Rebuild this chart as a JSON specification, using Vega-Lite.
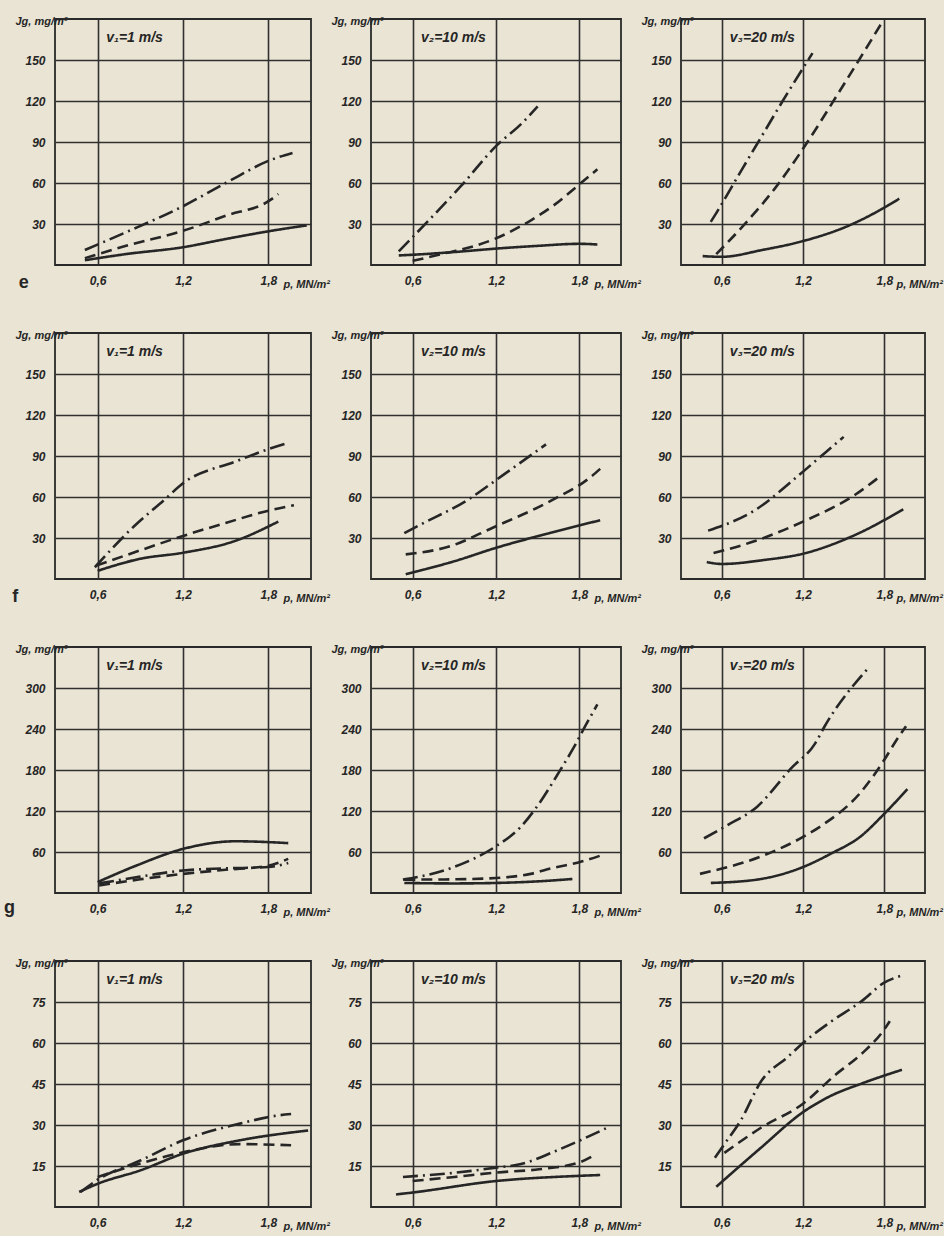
{
  "$schema": "https://vega.github.io/schema/vega-lite/v6.json",
  "background": "#eae4d4",
  "padding": {"left": 3, "top": 14, "right": 0, "bottom": 5},
  "datasets": {
    "curves": [
      {"r":"e","c":1,"s":"dashdot","p":0.51,"J":11},{"r":"e","c":1,"s":"dashdot","p":0.8,"J":24},{"r":"e","c":1,"s":"dashdot","p":1.2,"J":43},{"r":"e","c":1,"s":"dashdot","p":1.5,"J":60},{"r":"e","c":1,"s":"dashdot","p":1.82,"J":77},{"r":"e","c":1,"s":"dashdot","p":1.97,"J":82},
      {"r":"e","c":1,"s":"dashed","p":0.51,"J":5},{"r":"e","c":1,"s":"dashed","p":0.8,"J":14},{"r":"e","c":1,"s":"dashed","p":1.2,"J":25},{"r":"e","c":1,"s":"dashed","p":1.5,"J":36},{"r":"e","c":1,"s":"dashed","p":1.82,"J":48},{"r":"e","c":1,"s":"dashed","p":1.87,"J":52},
      {"r":"e","c":1,"s":"solid","p":0.51,"J":3.5},{"r":"e","c":1,"s":"solid","p":0.8,"J":8},{"r":"e","c":1,"s":"solid","p":1.2,"J":13},{"r":"e","c":1,"s":"solid","p":1.5,"J":19},{"r":"e","c":1,"s":"solid","p":1.82,"J":25},{"r":"e","c":1,"s":"solid","p":2.07,"J":29},

      {"r":"e","c":2,"s":"dashdot","p":0.5,"J":10},{"r":"e","c":2,"s":"dashdot","p":0.7,"J":31},{"r":"e","c":2,"s":"dashdot","p":0.95,"J":58},{"r":"e","c":2,"s":"dashdot","p":1.2,"J":87},{"r":"e","c":2,"s":"dashdot","p":1.39,"J":104},{"r":"e","c":2,"s":"dashdot","p":1.5,"J":116},
      {"r":"e","c":2,"s":"dashed","p":0.6,"J":3},{"r":"e","c":2,"s":"dashed","p":0.85,"J":9},{"r":"e","c":2,"s":"dashed","p":1.05,"J":14},{"r":"e","c":2,"s":"dashed","p":1.2,"J":19.5},{"r":"e","c":2,"s":"dashed","p":1.44,"J":32},{"r":"e","c":2,"s":"dashed","p":1.62,"J":44},{"r":"e","c":2,"s":"dashed","p":1.8,"J":59},{"r":"e","c":2,"s":"dashed","p":1.93,"J":70},
      {"r":"e","c":2,"s":"solid","p":0.5,"J":7},{"r":"e","c":2,"s":"solid","p":0.6,"J":7.5},{"r":"e","c":2,"s":"solid","p":0.9,"J":9.5},{"r":"e","c":2,"s":"solid","p":1.2,"J":12},{"r":"e","c":2,"s":"solid","p":1.5,"J":14},{"r":"e","c":2,"s":"solid","p":1.8,"J":15.5},{"r":"e","c":2,"s":"solid","p":1.93,"J":15},

      {"r":"e","c":3,"s":"dashdot","p":0.52,"J":31.6},{"r":"e","c":3,"s":"dashdot","p":0.56,"J":38},{"r":"e","c":3,"s":"dashdot","p":0.75,"J":70},{"r":"e","c":3,"s":"dashdot","p":0.9,"J":95},{"r":"e","c":3,"s":"dashdot","p":1.05,"J":120},{"r":"e","c":3,"s":"dashdot","p":1.2,"J":144},{"r":"e","c":3,"s":"dashdot","p":1.27,"J":155},
      {"r":"e","c":3,"s":"dashed","p":0.56,"J":8},{"r":"e","c":3,"s":"dashed","p":0.78,"J":31},{"r":"e","c":3,"s":"dashed","p":1.0,"J":57},{"r":"e","c":3,"s":"dashed","p":1.2,"J":85},{"r":"e","c":3,"s":"dashed","p":1.45,"J":124},{"r":"e","c":3,"s":"dashed","p":1.78,"J":177},
      {"r":"e","c":3,"s":"solid","p":0.46,"J":6.5},{"r":"e","c":3,"s":"solid","p":0.6,"J":6},{"r":"e","c":3,"s":"solid","p":0.9,"J":11},{"r":"e","c":3,"s":"solid","p":1.2,"J":17.5},{"r":"e","c":3,"s":"solid","p":1.53,"J":28.5},{"r":"e","c":3,"s":"solid","p":1.8,"J":42},{"r":"e","c":3,"s":"solid","p":1.91,"J":48.5},

      {"r":"f","c":1,"s":"dashdot","p":0.58,"J":8.6},{"r":"f","c":1,"s":"dashdot","p":0.86,"J":39},{"r":"f","c":1,"s":"dashdot","p":1.07,"J":58},{"r":"f","c":1,"s":"dashdot","p":1.2,"J":70},{"r":"f","c":1,"s":"dashdot","p":1.57,"J":86},{"r":"f","c":1,"s":"dashdot","p":1.8,"J":95},{"r":"f","c":1,"s":"dashdot","p":1.94,"J":99.6},
      {"r":"f","c":1,"s":"dashed","p":0.59,"J":9.8},{"r":"f","c":1,"s":"dashed","p":0.9,"J":21},{"r":"f","c":1,"s":"dashed","p":1.2,"J":31.5},{"r":"f","c":1,"s":"dashed","p":1.5,"J":41},{"r":"f","c":1,"s":"dashed","p":1.8,"J":50},{"r":"f","c":1,"s":"dashed","p":1.98,"J":54},
      {"r":"f","c":1,"s":"solid","p":0.6,"J":6},{"r":"f","c":1,"s":"solid","p":0.9,"J":14.8},{"r":"f","c":1,"s":"solid","p":1.2,"J":19.2},{"r":"f","c":1,"s":"solid","p":1.57,"J":28},{"r":"f","c":1,"s":"solid","p":1.87,"J":42},

      {"r":"f","c":2,"s":"dashdot","p":0.54,"J":33.5},{"r":"f","c":2,"s":"dashdot","p":0.66,"J":40},{"r":"f","c":2,"s":"dashdot","p":0.99,"J":57.5},{"r":"f","c":2,"s":"dashdot","p":1.25,"J":76},{"r":"f","c":2,"s":"dashdot","p":1.56,"J":98.5},
      {"r":"f","c":2,"s":"dashed","p":0.55,"J":18},{"r":"f","c":2,"s":"dashed","p":0.87,"J":24},{"r":"f","c":2,"s":"dashed","p":1.18,"J":37.7},{"r":"f","c":2,"s":"dashed","p":1.6,"J":57.5},{"r":"f","c":2,"s":"dashed","p":1.87,"J":73.7},{"r":"f","c":2,"s":"dashed","p":1.95,"J":80.6},
      {"r":"f","c":2,"s":"solid","p":0.55,"J":3.5},{"r":"f","c":2,"s":"solid","p":0.9,"J":13},{"r":"f","c":2,"s":"solid","p":1.2,"J":22.8},{"r":"f","c":2,"s":"solid","p":1.6,"J":34},{"r":"f","c":2,"s":"solid","p":1.95,"J":43},

      {"r":"f","c":3,"s":"dashdot","p":0.5,"J":35.4},{"r":"f","c":3,"s":"dashdot","p":0.84,"J":50},{"r":"f","c":3,"s":"dashdot","p":1.17,"J":76},{"r":"f","c":3,"s":"dashdot","p":1.37,"J":93},{"r":"f","c":3,"s":"dashdot","p":1.5,"J":104},
      {"r":"f","c":3,"s":"dashed","p":0.54,"J":19},{"r":"f","c":3,"s":"dashed","p":0.84,"J":27.6},{"r":"f","c":3,"s":"dashed","p":1.2,"J":42},{"r":"f","c":3,"s":"dashed","p":1.59,"J":62},{"r":"f","c":3,"s":"dashed","p":1.78,"J":76},
      {"r":"f","c":3,"s":"solid","p":0.49,"J":12.4},{"r":"f","c":3,"s":"solid","p":0.6,"J":11},{"r":"f","c":3,"s":"solid","p":0.92,"J":14},{"r":"f","c":3,"s":"solid","p":1.2,"J":18.5},{"r":"f","c":3,"s":"solid","p":1.59,"J":32.5},{"r":"f","c":3,"s":"solid","p":1.94,"J":51},

      {"r":"g","c":1,"s":"solid","p":0.6,"J":16},{"r":"g","c":1,"s":"solid","p":0.87,"J":40},{"r":"g","c":1,"s":"solid","p":1.2,"J":64.5},{"r":"g","c":1,"s":"solid","p":1.57,"J":75.7},{"r":"g","c":1,"s":"solid","p":1.94,"J":73},
      {"r":"g","c":1,"s":"dashed","p":0.61,"J":11},{"r":"g","c":1,"s":"dashed","p":0.9,"J":20},{"r":"g","c":1,"s":"dashed","p":1.2,"J":28},{"r":"g","c":1,"s":"dashed","p":1.5,"J":34},{"r":"g","c":1,"s":"dashed","p":1.8,"J":40},{"r":"g","c":1,"s":"dashed","p":1.94,"J":50},
      {"r":"g","c":1,"s":"dashdot","p":0.61,"J":14},{"r":"g","c":1,"s":"dashdot","p":0.9,"J":24},{"r":"g","c":1,"s":"dashdot","p":1.2,"J":33},{"r":"g","c":1,"s":"dashdot","p":1.5,"J":36},{"r":"g","c":1,"s":"dashdot","p":1.8,"J":38},{"r":"g","c":1,"s":"dashdot","p":1.94,"J":44},

      {"r":"g","c":2,"s":"dashdot","p":0.53,"J":19.6},{"r":"g","c":2,"s":"dashdot","p":0.88,"J":36.7},{"r":"g","c":2,"s":"dashdot","p":1.2,"J":68.5},{"r":"g","c":2,"s":"dashdot","p":1.37,"J":95},{"r":"g","c":2,"s":"dashdot","p":1.49,"J":125},{"r":"g","c":2,"s":"dashdot","p":1.66,"J":179},{"r":"g","c":2,"s":"dashdot","p":1.76,"J":213},{"r":"g","c":2,"s":"dashdot","p":1.85,"J":247},{"r":"g","c":2,"s":"dashdot","p":1.93,"J":276},
      {"r":"g","c":2,"s":"dashed","p":0.54,"J":19.6},{"r":"g","c":2,"s":"dashed","p":0.9,"J":20},{"r":"g","c":2,"s":"dashed","p":1.2,"J":22},{"r":"g","c":2,"s":"dashed","p":1.45,"J":28},{"r":"g","c":2,"s":"dashed","p":1.61,"J":36.7},{"r":"g","c":2,"s":"dashed","p":1.8,"J":45},{"r":"g","c":2,"s":"dashed","p":1.97,"J":56},
      {"r":"g","c":2,"s":"solid","p":0.54,"J":14.7},{"r":"g","c":2,"s":"solid","p":0.9,"J":14},{"r":"g","c":2,"s":"solid","p":1.2,"J":14.7},{"r":"g","c":2,"s":"solid","p":1.5,"J":17},{"r":"g","c":2,"s":"solid","p":1.75,"J":20.5},

      {"r":"g","c":3,"s":"dashdot","p":0.47,"J":80},{"r":"g","c":3,"s":"dashdot","p":0.64,"J":99},{"r":"g","c":3,"s":"dashdot","p":0.86,"J":126},{"r":"g","c":3,"s":"dashdot","p":1.11,"J":182},{"r":"g","c":3,"s":"dashdot","p":1.29,"J":219},{"r":"g","c":3,"s":"dashdot","p":1.36,"J":244},{"r":"g","c":3,"s":"dashdot","p":1.68,"J":329},
      {"r":"g","c":3,"s":"dashed","p":0.44,"J":28},{"r":"g","c":3,"s":"dashed","p":0.91,"J":55},{"r":"g","c":3,"s":"dashed","p":1.2,"J":82},{"r":"g","c":3,"s":"dashed","p":1.34,"J":99},{"r":"g","c":3,"s":"dashed","p":1.62,"J":146},{"r":"g","c":3,"s":"dashed","p":1.8,"J":195},{"r":"g","c":3,"s":"dashed","p":1.89,"J":224},{"r":"g","c":3,"s":"dashed","p":1.96,"J":244},
      {"r":"g","c":3,"s":"solid","p":0.52,"J":14.7},{"r":"g","c":3,"s":"solid","p":0.86,"J":19.6},{"r":"g","c":3,"s":"solid","p":1.2,"J":38},{"r":"g","c":3,"s":"solid","p":1.41,"J":58},{"r":"g","c":3,"s":"solid","p":1.62,"J":82},{"r":"g","c":3,"s":"solid","p":1.8,"J":116},{"r":"g","c":3,"s":"solid","p":1.97,"J":152},

      {"r":"h","c":1,"s":"dashdot","p":0.48,"J":5.5},{"r":"h","c":1,"s":"dashdot","p":0.6,"J":10},{"r":"h","c":1,"s":"dashdot","p":0.9,"J":17},{"r":"h","c":1,"s":"dashdot","p":1.2,"J":24.4},{"r":"h","c":1,"s":"dashdot","p":1.6,"J":30.5},{"r":"h","c":1,"s":"dashdot","p":1.87,"J":33.5},{"r":"h","c":1,"s":"dashdot","p":1.96,"J":34},
      {"r":"h","c":1,"s":"dashed","p":0.6,"J":11},{"r":"h","c":1,"s":"dashed","p":0.9,"J":15.9},{"r":"h","c":1,"s":"dashed","p":1.2,"J":20},{"r":"h","c":1,"s":"dashed","p":1.6,"J":23},{"r":"h","c":1,"s":"dashed","p":1.96,"J":22.6},
      {"r":"h","c":1,"s":"solid","p":0.47,"J":5.5},{"r":"h","c":1,"s":"solid","p":0.6,"J":8.5},{"r":"h","c":1,"s":"solid","p":0.9,"J":13.4},{"r":"h","c":1,"s":"solid","p":1.2,"J":19.5},{"r":"h","c":1,"s":"solid","p":1.6,"J":24.4},{"r":"h","c":1,"s":"solid","p":2.08,"J":28},

      {"r":"h","c":2,"s":"dashdot","p":0.53,"J":11},{"r":"h","c":2,"s":"dashdot","p":0.9,"J":12.5},{"r":"h","c":2,"s":"dashdot","p":1.2,"J":14.4},{"r":"h","c":2,"s":"dashdot","p":1.38,"J":15.7},{"r":"h","c":2,"s":"dashdot","p":1.63,"J":20.5},{"r":"h","c":2,"s":"dashdot","p":2.0,"J":29},
      {"r":"h","c":2,"s":"dashed","p":0.6,"J":9.5},{"r":"h","c":2,"s":"dashed","p":0.9,"J":11},{"r":"h","c":2,"s":"dashed","p":1.2,"J":12.6},{"r":"h","c":2,"s":"dashed","p":1.51,"J":13.8},{"r":"h","c":2,"s":"dashed","p":1.8,"J":16.3},{"r":"h","c":2,"s":"dashed","p":1.92,"J":19.3},
      {"r":"h","c":2,"s":"solid","p":0.48,"J":4.6},{"r":"h","c":2,"s":"solid","p":0.6,"J":5.3},{"r":"h","c":2,"s":"solid","p":1.2,"J":9.5},{"r":"h","c":2,"s":"solid","p":1.8,"J":11.4},{"r":"h","c":2,"s":"solid","p":1.95,"J":11.7},

      {"r":"h","c":3,"s":"dashdot","p":0.55,"J":18},{"r":"h","c":3,"s":"dashdot","p":0.62,"J":23},{"r":"h","c":3,"s":"dashdot","p":0.74,"J":31.6},{"r":"h","c":3,"s":"dashdot","p":0.89,"J":45.9},{"r":"h","c":3,"s":"dashdot","p":1.09,"J":55},{"r":"h","c":3,"s":"dashdot","p":1.2,"J":60},{"r":"h","c":3,"s":"dashdot","p":1.4,"J":67.6},{"r":"h","c":3,"s":"dashdot","p":1.64,"J":75.6},{"r":"h","c":3,"s":"dashdot","p":1.79,"J":81.8},{"r":"h","c":3,"s":"dashdot","p":1.93,"J":84.7},
      {"r":"h","c":3,"s":"dashed","p":0.62,"J":19.8},{"r":"h","c":3,"s":"dashed","p":0.89,"J":29},{"r":"h","c":3,"s":"dashed","p":1.2,"J":37.8},{"r":"h","c":3,"s":"dashed","p":1.44,"J":48.4},{"r":"h","c":3,"s":"dashed","p":1.64,"J":56.4},{"r":"h","c":3,"s":"dashed","p":1.8,"J":65},{"r":"h","c":3,"s":"dashed","p":1.84,"J":68},
      {"r":"h","c":3,"s":"solid","p":0.56,"J":7.4},{"r":"h","c":3,"s":"solid","p":0.89,"J":21.7},{"r":"h","c":3,"s":"solid","p":1.2,"J":34.7},{"r":"h","c":3,"s":"solid","p":1.39,"J":40.3},{"r":"h","c":3,"s":"solid","p":1.64,"J":45.3},{"r":"h","c":3,"s":"solid","p":1.93,"J":50.2}
    ],
    "panels": [
      {"r":"e","c":1,"label":"v₁=1 m/s","letter":"e"},
      {"r":"e","c":2,"label":"v₂=10 m/s","letter":""},
      {"r":"e","c":3,"label":"v₃=20 m/s","letter":""},
      {"r":"f","c":1,"label":"v₁=1 m/s","letter":"f"},
      {"r":"f","c":2,"label":"v₂=10 m/s","letter":""},
      {"r":"f","c":3,"label":"v₃=20 m/s","letter":""},
      {"r":"g","c":1,"label":"v₁=1 m/s","letter":"g"},
      {"r":"g","c":2,"label":"v₂=10 m/s","letter":""},
      {"r":"g","c":3,"label":"v₃=20 m/s","letter":""},
      {"r":"h","c":1,"label":"v₁=1 m/s","letter":""},
      {"r":"h","c":2,"label":"v₂=10 m/s","letter":""},
      {"r":"h","c":3,"label":"v₃=20 m/s","letter":""}
    ]
  },
  "config": {
    "font": "Liberation Sans",
    "view": {"stroke": "#2a2a2a", "strokeWidth": 1.8, "fill": null},
    "axis": {
      "grid": true, "gridColor": "#303030", "gridWidth": 1.6, "gridOpacity": 1,
      "domain": false, "ticks": false,
      "labelFont": "Liberation Sans", "labelFontSize": 12, "labelFontStyle": "italic", "labelFontWeight": "bold", "labelColor": "#262626",
      "labelPadding": 10,
      "titleFont": "Liberation Sans", "titleFontSize": 11, "titleFontStyle": "italic", "titleFontWeight": "bold", "titleColor": "#262626"
    },
    "axisX": {
      "labelExpr": "replace(format(datum.value, '.1f'), '.', ',')",
      "titleAngle": 0, "titleAlign": "left", "titleBaseline": "alphabetic", "titleY": 22, "titleAnchor": "start"
    },
    "axisY": {
      "titleAngle": 0, "titleAlign": "left", "titleBaseline": "middle", "titleX": -40, "titleY": 2, "titleAnchor": "start"
    },
    "text": {"font": "Liberation Sans", "fontStyle": "italic", "fontWeight": "bold", "color": "#262626"}
  },
  "columns": 3,
  "bounds": "flush",
  "spacing": {"row": 68, "column": 60},
  "concat": [
      {"width": 256, "height": 246, "layer": [
        {"data": {"name": "curves"}, "transform": [{"filter": "datum.r == 'e' && datum.c == 1"}],
         "mark": {"type": "line", "interpolate": "monotone", "strokeWidth": 2.6, "color": "#262626", "clip": true},
         "encoding": {
           "x": {"field": "p", "type": "quantitative", "scale": {"domain": [0.3, 2.1], "nice": false, "zero": false}, "axis": {"values": [0.6, 1.2, 1.8], "title": "p, MN/m²", "titleX": 228}},
           "y": {"field": "J", "type": "quantitative", "scale": {"domain": [0, 180], "nice": false}, "axis": {"values": [30, 60, 90, 120, 150], "title": "Jg, mg/m³"}},
           "detail": {"field": "s"},
           "strokeDash": {"field": "s", "type": "nominal", "scale": {"domain": ["solid", "dashed", "dashdot"], "range": [[1, 0], [11, 6], [15, 5, 2, 5]]}, "legend": null}}},
        {"data": {"name": "panels"}, "transform": [{"filter": "datum.r == 'e' && datum.c == 1"}],
         "mark": {"type": "text", "align": "left", "baseline": "middle", "fontSize": 14},
         "encoding": {"x": {"datum": 0.66}, "y": {"datum": 166}, "text": {"field": "label"}}},
        {"data": {"name": "panels"}, "transform": [{"filter": "datum.r == 'e' && datum.c == 1"}],
         "mark": {"type": "text", "align": "center", "baseline": "middle", "fontSize": 18, "fontStyle": "normal"},
         "encoding": {"x": {"datum": 0.08}, "y": {"datum": -13}, "text": {"field": "letter"}}}
      ]},
      {"width": 250, "height": 246, "layer": [
        {"data": {"name": "curves"}, "transform": [{"filter": "datum.r == 'e' && datum.c == 2"}],
         "mark": {"type": "line", "interpolate": "monotone", "strokeWidth": 2.6, "color": "#262626", "clip": true},
         "encoding": {
           "x": {"field": "p", "type": "quantitative", "scale": {"domain": [0.3, 2.1], "nice": false, "zero": false}, "axis": {"values": [0.6, 1.2, 1.8], "title": "p, MN/m²", "titleX": 223}},
           "y": {"field": "J", "type": "quantitative", "scale": {"domain": [0, 180], "nice": false}, "axis": {"values": [30, 60, 90, 120, 150], "title": "Jg, mg/m³"}},
           "detail": {"field": "s"},
           "strokeDash": {"field": "s", "type": "nominal", "scale": {"domain": ["solid", "dashed", "dashdot"], "range": [[1, 0], [11, 6], [15, 5, 2, 5]]}, "legend": null}}},
        {"data": {"name": "panels"}, "transform": [{"filter": "datum.r == 'e' && datum.c == 2"}],
         "mark": {"type": "text", "align": "left", "baseline": "middle", "fontSize": 14},
         "encoding": {"x": {"datum": 0.66}, "y": {"datum": 166}, "text": {"field": "label"}}}
      ]},
      {"width": 244, "height": 246, "layer": [
        {"data": {"name": "curves"}, "transform": [{"filter": "datum.r == 'e' && datum.c == 3"}],
         "mark": {"type": "line", "interpolate": "monotone", "strokeWidth": 2.6, "color": "#262626", "clip": true},
         "encoding": {
           "x": {"field": "p", "type": "quantitative", "scale": {"domain": [0.3, 2.1], "nice": false, "zero": false}, "axis": {"values": [0.6, 1.2, 1.8], "title": "p, MN/m²", "titleX": 215}},
           "y": {"field": "J", "type": "quantitative", "scale": {"domain": [0, 180], "nice": false}, "axis": {"values": [30, 60, 90, 120, 150], "title": "Jg, mg/m³"}},
           "detail": {"field": "s"},
           "strokeDash": {"field": "s", "type": "nominal", "scale": {"domain": ["solid", "dashed", "dashdot"], "range": [[1, 0], [11, 6], [15, 5, 2, 5]]}, "legend": null}}},
        {"data": {"name": "panels"}, "transform": [{"filter": "datum.r == 'e' && datum.c == 3"}],
         "mark": {"type": "text", "align": "left", "baseline": "middle", "fontSize": 14},
         "encoding": {"x": {"datum": 0.66}, "y": {"datum": 166}, "text": {"field": "label"}}}
      ]},
      {"width": 256, "height": 246, "layer": [
        {"data": {"name": "curves"}, "transform": [{"filter": "datum.r == 'f' && datum.c == 1"}],
         "mark": {"type": "line", "interpolate": "monotone", "strokeWidth": 2.6, "color": "#262626", "clip": true},
         "encoding": {
           "x": {"field": "p", "type": "quantitative", "scale": {"domain": [0.3, 2.1], "nice": false, "zero": false}, "axis": {"values": [0.6, 1.2, 1.8], "title": "p, MN/m²", "titleX": 228}},
           "y": {"field": "J", "type": "quantitative", "scale": {"domain": [0, 180], "nice": false}, "axis": {"values": [30, 60, 90, 120, 150], "title": "Jg, mg/m³"}},
           "detail": {"field": "s"},
           "strokeDash": {"field": "s", "type": "nominal", "scale": {"domain": ["solid", "dashed", "dashdot"], "range": [[1, 0], [11, 6], [15, 5, 2, 5]]}, "legend": null}}},
        {"data": {"name": "panels"}, "transform": [{"filter": "datum.r == 'f' && datum.c == 1"}],
         "mark": {"type": "text", "align": "left", "baseline": "middle", "fontSize": 14},
         "encoding": {"x": {"datum": 0.66}, "y": {"datum": 166}, "text": {"field": "label"}}},
        {"data": {"name": "panels"}, "transform": [{"filter": "datum.r == 'f' && datum.c == 1"}],
         "mark": {"type": "text", "align": "center", "baseline": "middle", "fontSize": 18, "fontStyle": "normal"},
         "encoding": {"x": {"datum": 0.02}, "y": {"datum": -13}, "text": {"field": "letter"}}}
      ]},
      {"width": 250, "height": 246, "layer": [
        {"data": {"name": "curves"}, "transform": [{"filter": "datum.r == 'f' && datum.c == 2"}],
         "mark": {"type": "line", "interpolate": "monotone", "strokeWidth": 2.6, "color": "#262626", "clip": true},
         "encoding": {
           "x": {"field": "p", "type": "quantitative", "scale": {"domain": [0.3, 2.1], "nice": false, "zero": false}, "axis": {"values": [0.6, 1.2, 1.8], "title": "p, MN/m²", "titleX": 223}},
           "y": {"field": "J", "type": "quantitative", "scale": {"domain": [0, 180], "nice": false}, "axis": {"values": [30, 60, 90, 120, 150], "title": "Jg, mg/m³"}},
           "detail": {"field": "s"},
           "strokeDash": {"field": "s", "type": "nominal", "scale": {"domain": ["solid", "dashed", "dashdot"], "range": [[1, 0], [11, 6], [15, 5, 2, 5]]}, "legend": null}}},
        {"data": {"name": "panels"}, "transform": [{"filter": "datum.r == 'f' && datum.c == 2"}],
         "mark": {"type": "text", "align": "left", "baseline": "middle", "fontSize": 14},
         "encoding": {"x": {"datum": 0.66}, "y": {"datum": 166}, "text": {"field": "label"}}}
      ]},
      {"width": 244, "height": 246, "layer": [
        {"data": {"name": "curves"}, "transform": [{"filter": "datum.r == 'f' && datum.c == 3"}],
         "mark": {"type": "line", "interpolate": "monotone", "strokeWidth": 2.6, "color": "#262626", "clip": true},
         "encoding": {
           "x": {"field": "p", "type": "quantitative", "scale": {"domain": [0.3, 2.1], "nice": false, "zero": false}, "axis": {"values": [0.6, 1.2, 1.8], "title": "p, MN/m²", "titleX": 215}},
           "y": {"field": "J", "type": "quantitative", "scale": {"domain": [0, 180], "nice": false}, "axis": {"values": [30, 60, 90, 120, 150], "title": "Jg, mg/m³"}},
           "detail": {"field": "s"},
           "strokeDash": {"field": "s", "type": "nominal", "scale": {"domain": ["solid", "dashed", "dashdot"], "range": [[1, 0], [11, 6], [15, 5, 2, 5]]}, "legend": null}}},
        {"data": {"name": "panels"}, "transform": [{"filter": "datum.r == 'f' && datum.c == 3"}],
         "mark": {"type": "text", "align": "left", "baseline": "middle", "fontSize": 14},
         "encoding": {"x": {"datum": 0.66}, "y": {"datum": 166}, "text": {"field": "label"}}}
      ]},
      {"width": 256, "height": 246, "layer": [
        {"data": {"name": "curves"}, "transform": [{"filter": "datum.r == 'g' && datum.c == 1"}],
         "mark": {"type": "line", "interpolate": "monotone", "strokeWidth": 2.6, "color": "#262626", "clip": true},
         "encoding": {
           "x": {"field": "p", "type": "quantitative", "scale": {"domain": [0.3, 2.1], "nice": false, "zero": false}, "axis": {"values": [0.6, 1.2, 1.8], "title": "p, MN/m²", "titleX": 228}},
           "y": {"field": "J", "type": "quantitative", "scale": {"domain": [0, 360], "nice": false}, "axis": {"values": [60, 120, 180, 240, 300], "title": "Jg, mg/m³"}},
           "detail": {"field": "s"},
           "strokeDash": {"field": "s", "type": "nominal", "scale": {"domain": ["solid", "dashed", "dashdot"], "range": [[1, 0], [11, 6], [15, 5, 2, 5]]}, "legend": null}}},
        {"data": {"name": "panels"}, "transform": [{"filter": "datum.r == 'g' && datum.c == 1"}],
         "mark": {"type": "text", "align": "left", "baseline": "middle", "fontSize": 14},
         "encoding": {"x": {"datum": 0.66}, "y": {"datum": 332}, "text": {"field": "label"}}},
        {"data": {"name": "panels"}, "transform": [{"filter": "datum.r == 'g' && datum.c == 1"}],
         "mark": {"type": "text", "align": "center", "baseline": "middle", "fontSize": 18, "fontStyle": "normal"},
         "encoding": {"x": {"datum": -0.02}, "y": {"datum": -22}, "text": {"field": "letter"}}}
      ]},
      {"width": 250, "height": 246, "layer": [
        {"data": {"name": "curves"}, "transform": [{"filter": "datum.r == 'g' && datum.c == 2"}],
         "mark": {"type": "line", "interpolate": "monotone", "strokeWidth": 2.6, "color": "#262626", "clip": true},
         "encoding": {
           "x": {"field": "p", "type": "quantitative", "scale": {"domain": [0.3, 2.1], "nice": false, "zero": false}, "axis": {"values": [0.6, 1.2, 1.8], "title": "p, MN/m²", "titleX": 223}},
           "y": {"field": "J", "type": "quantitative", "scale": {"domain": [0, 360], "nice": false}, "axis": {"values": [60, 120, 180, 240, 300], "title": "Jg, mg/m³"}},
           "detail": {"field": "s"},
           "strokeDash": {"field": "s", "type": "nominal", "scale": {"domain": ["solid", "dashed", "dashdot"], "range": [[1, 0], [11, 6], [15, 5, 2, 5]]}, "legend": null}}},
        {"data": {"name": "panels"}, "transform": [{"filter": "datum.r == 'g' && datum.c == 2"}],
         "mark": {"type": "text", "align": "left", "baseline": "middle", "fontSize": 14},
         "encoding": {"x": {"datum": 0.66}, "y": {"datum": 332}, "text": {"field": "label"}}}
      ]},
      {"width": 244, "height": 246, "layer": [
        {"data": {"name": "curves"}, "transform": [{"filter": "datum.r == 'g' && datum.c == 3"}],
         "mark": {"type": "line", "interpolate": "monotone", "strokeWidth": 2.6, "color": "#262626", "clip": true},
         "encoding": {
           "x": {"field": "p", "type": "quantitative", "scale": {"domain": [0.3, 2.1], "nice": false, "zero": false}, "axis": {"values": [0.6, 1.2, 1.8], "title": "p, MN/m²", "titleX": 215}},
           "y": {"field": "J", "type": "quantitative", "scale": {"domain": [0, 360], "nice": false}, "axis": {"values": [60, 120, 180, 240, 300], "title": "Jg, mg/m³"}},
           "detail": {"field": "s"},
           "strokeDash": {"field": "s", "type": "nominal", "scale": {"domain": ["solid", "dashed", "dashdot"], "range": [[1, 0], [11, 6], [15, 5, 2, 5]]}, "legend": null}}},
        {"data": {"name": "panels"}, "transform": [{"filter": "datum.r == 'g' && datum.c == 3"}],
         "mark": {"type": "text", "align": "left", "baseline": "middle", "fontSize": 14},
         "encoding": {"x": {"datum": 0.66}, "y": {"datum": 332}, "text": {"field": "label"}}}
      ]},
      {"width": 256, "height": 246, "layer": [
        {"data": {"name": "curves"}, "transform": [{"filter": "datum.r == 'h' && datum.c == 1"}],
         "mark": {"type": "line", "interpolate": "monotone", "strokeWidth": 2.6, "color": "#262626", "clip": true},
         "encoding": {
           "x": {"field": "p", "type": "quantitative", "scale": {"domain": [0.3, 2.1], "nice": false, "zero": false}, "axis": {"values": [0.6, 1.2, 1.8], "title": "p, MN/m²", "titleX": 228}},
           "y": {"field": "J", "type": "quantitative", "scale": {"domain": [0, 90], "nice": false}, "axis": {"values": [15, 30, 45, 60, 75], "title": "Jg, mg/m³"}},
           "detail": {"field": "s"},
           "strokeDash": {"field": "s", "type": "nominal", "scale": {"domain": ["solid", "dashed", "dashdot"], "range": [[1, 0], [11, 6], [15, 5, 2, 5]]}, "legend": null}}},
        {"data": {"name": "panels"}, "transform": [{"filter": "datum.r == 'h' && datum.c == 1"}],
         "mark": {"type": "text", "align": "left", "baseline": "middle", "fontSize": 14},
         "encoding": {"x": {"datum": 0.66}, "y": {"datum": 83}, "text": {"field": "label"}}}
      ]},
      {"width": 250, "height": 246, "layer": [
        {"data": {"name": "curves"}, "transform": [{"filter": "datum.r == 'h' && datum.c == 2"}],
         "mark": {"type": "line", "interpolate": "monotone", "strokeWidth": 2.6, "color": "#262626", "clip": true},
         "encoding": {
           "x": {"field": "p", "type": "quantitative", "scale": {"domain": [0.3, 2.1], "nice": false, "zero": false}, "axis": {"values": [0.6, 1.2, 1.8], "title": "p, MN/m²", "titleX": 223}},
           "y": {"field": "J", "type": "quantitative", "scale": {"domain": [0, 90], "nice": false}, "axis": {"values": [15, 30, 45, 60, 75], "title": "Jg, mg/m³"}},
           "detail": {"field": "s"},
           "strokeDash": {"field": "s", "type": "nominal", "scale": {"domain": ["solid", "dashed", "dashdot"], "range": [[1, 0], [11, 6], [15, 5, 2, 5]]}, "legend": null}}},
        {"data": {"name": "panels"}, "transform": [{"filter": "datum.r == 'h' && datum.c == 2"}],
         "mark": {"type": "text", "align": "left", "baseline": "middle", "fontSize": 14},
         "encoding": {"x": {"datum": 0.66}, "y": {"datum": 83}, "text": {"field": "label"}}}
      ]},
      {"width": 244, "height": 246, "layer": [
        {"data": {"name": "curves"}, "transform": [{"filter": "datum.r == 'h' && datum.c == 3"}],
         "mark": {"type": "line", "interpolate": "monotone", "strokeWidth": 2.6, "color": "#262626", "clip": true},
         "encoding": {
           "x": {"field": "p", "type": "quantitative", "scale": {"domain": [0.3, 2.1], "nice": false, "zero": false}, "axis": {"values": [0.6, 1.2, 1.8], "title": "p, MN/m²", "titleX": 215}},
           "y": {"field": "J", "type": "quantitative", "scale": {"domain": [0, 90], "nice": false}, "axis": {"values": [15, 30, 45, 60, 75], "title": "Jg, mg/m³"}},
           "detail": {"field": "s"},
           "strokeDash": {"field": "s", "type": "nominal", "scale": {"domain": ["solid", "dashed", "dashdot"], "range": [[1, 0], [11, 6], [15, 5, 2, 5]]}, "legend": null}}},
        {"data": {"name": "panels"}, "transform": [{"filter": "datum.r == 'h' && datum.c == 3"}],
         "mark": {"type": "text", "align": "left", "baseline": "middle", "fontSize": 14},
         "encoding": {"x": {"datum": 0.66}, "y": {"datum": 83}, "text": {"field": "label"}}}
      ]}
  ]
}
